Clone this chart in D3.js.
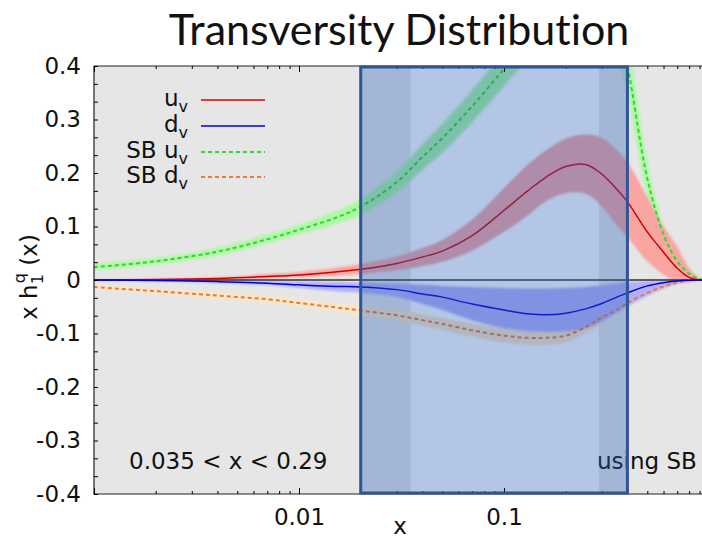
<!DOCTYPE html>
<html>
<head>
<meta charset="utf-8">
<script src="https://cdn.jsdelivr.net/npm/d3@7"></script>
<style>
  body { margin: 0; background: #fff; }
  text { font-family: "DejaVu Sans", sans-serif; fill: #111; }
</style>
</head>
<body>
<svg id="chart" width="702" height="538"></svg>
<script>
// x grid the curves are sampled on
var xGrid = [0.001, 0.002, 0.004, 0.007, 0.01, 0.015, 0.02, 0.03, 0.04, 0.05, 0.07, 0.1,
             0.13, 0.16, 0.2, 0.25, 0.3, 0.35, 0.4, 0.5, 0.6, 0.7, 0.8, 0.9, 1.0];

// u_v transversity (central, lower, upper)
var uvMid = [0.0005, 0.001, 0.003, 0.0065, 0.0095, 0.015, 0.02, 0.031, 0.043, 0.054, 0.083, 0.13,
             0.166, 0.192, 0.212, 0.216, 0.198, 0.172, 0.146, 0.09, 0.052, 0.022, 0.005, 0, 0];
var uvLo  = [0, 0, 0.001, 0.003, 0.005, 0.008, 0.011, 0.018, 0.026, 0.034, 0.055, 0.09,
             0.12, 0.147, 0.162, 0.161, 0.138, 0.105, 0.08, 0.035, 0.01, -0.004, -0.004, 0, 0];
var uvHi  = [0.001, 0.002, 0.005, 0.011, 0.015, 0.023, 0.03, 0.044, 0.06, 0.075, 0.113, 0.172,
             0.215, 0.242, 0.264, 0.272, 0.266, 0.245, 0.22, 0.155, 0.1, 0.062, 0.022, 0.003, 0];

// d_v transversity
var dvMid = [0, -0.001, -0.003, -0.006, -0.009, -0.012, -0.013, -0.018, -0.026, -0.032, -0.045, -0.056,
             -0.063, -0.065, -0.062, -0.054, -0.044, -0.033, -0.024, -0.011, -0.005, -0.002, -0.0005, 0, 0];
var dvLo  = [-0.001, -0.003, -0.006, -0.01, -0.015, -0.021, -0.024, -0.032, -0.045, -0.056, -0.075, -0.09,
             -0.096, -0.097, -0.096, -0.09, -0.078, -0.063, -0.05, -0.03, -0.016, -0.007, -0.002, 0, 0];
var dvHi  = [0, 0, -0.001, -0.002, -0.003, -0.004, -0.005, -0.007, -0.009, -0.011, -0.013, -0.015,
             -0.016, -0.016, -0.015, -0.013, -0.01, -0.007, -0.004, -0.002, -0.001, 0, 0, 0, 0];

// Soffer bound for u_v
var sbuMid = [0.024, 0.035, 0.053, 0.076, 0.094, 0.116, 0.137, 0.183, 0.23, 0.265, 0.325, 0.395,
              0.45, 0.5, 0.54, 0.55, 0.54, 0.49, 0.4, 0.19, 0.085, 0.035, 0.012, 0.002, 0];
var sbuLo  = [0.018, 0.029, 0.046, 0.068, 0.085, 0.104, 0.122, 0.163, 0.206, 0.238, 0.295, 0.362,
              0.415, 0.465, 0.505, 0.515, 0.5, 0.44, 0.35, 0.16, 0.068, 0.024, 0.006, 0, 0];
var sbuHi  = [0.03, 0.041, 0.06, 0.085, 0.103, 0.128, 0.152, 0.203, 0.254, 0.292, 0.355, 0.428,
              0.485, 0.535, 0.575, 0.585, 0.58, 0.54, 0.45, 0.22, 0.1, 0.045, 0.018, 0.004, 0];

// Soffer bound for d_v
var sbdMid = [-0.013, -0.021, -0.029, -0.036, -0.043, -0.051, -0.057, -0.066, -0.075, -0.082, -0.094, -0.104,
              -0.108, -0.108, -0.104, -0.088, -0.07, -0.057, -0.043, -0.024, -0.012, -0.005, -0.001, 0, 0];
var sbdLo  = [-0.016, -0.025, -0.034, -0.041, -0.049, -0.057, -0.065, -0.076, -0.086, -0.093, -0.106, -0.117,
              -0.121, -0.121, -0.117, -0.1, -0.081, -0.066, -0.05, -0.029, -0.016, -0.008, -0.003, 0, 0];
var sbdHi  = [-0.01, -0.017, -0.024, -0.031, -0.037, -0.045, -0.049, -0.056, -0.064, -0.071, -0.082, -0.091,
              -0.095, -0.095, -0.091, -0.076, -0.059, -0.048, -0.036, -0.019, -0.008, -0.002, 0, 0, 0];

var yTicks = [-0.4, -0.3, -0.2, -0.1, 0, 0.1, 0.2, 0.3, 0.4];
var xTicks = [0.01, 0.1];
var xMajor = [0.001, 0.01, 0.1, 1];

var dataWindow = [0.035, 0.29];   // x covered by the data (white in the plot)
var windowEdge = [0.02, 0.4];     // edge of the blue box laid over it

var svg = d3.select("#chart");

var x = d3.scaleLog().domain([0.001, 1]).range([94, 709]);
var y = d3.scaleLinear().domain([-0.4, 0.4]).range([494, 66]);

var defs = svg.append("defs");
defs.append("clipPath").attr("id", "plotclip")
  .append("rect").attr("x", 94).attr("y", 66).attr("width", 615).attr("height", 428);
defs.append("filter").attr("id", "soft").attr("x", "-5%").attr("y", "-5%").attr("width", "110%").attr("height", "110%")
  .append("feGaussianBlur").attr("stdDeviation", 0.8);
defs.append("filter").attr("id", "softer").attr("x", "-5%").attr("y", "-5%").attr("width", "110%").attr("height", "110%")
  .append("feGaussianBlur").attr("stdDeviation", 1.6);

// title
svg.append("text")
  .attr("x", 399).attr("y", 45)
  .attr("text-anchor", "middle")
  .style("font-family", "Lato, 'Open Sans', sans-serif")
  .style("font-size", "43px")
  .style("font-variant-ligatures", "none")
  .text("Transversity Distribution");

// plot background: gray, white where there is data
svg.append("rect")
  .attr("x", 94).attr("y", 66).attr("width", 615).attr("height", 428)
  .attr("fill", "#e6e6e6");
svg.append("rect")
  .attr("x", x(dataWindow[0])).attr("y", 66)
  .attr("width", x(dataWindow[1]) - x(dataWindow[0])).attr("height", 428)
  .attr("fill", "#ffffff");

var plot = svg.append("g").attr("clip-path", "url(#plotclip)");

function bandPath(lo, hi) {
  return d3.area()
    .x(function (d, i) { return x(xGrid[i]); })
    .y0(function (d, i) { return y(lo[i]); })
    .y1(function (d, i) { return y(hi[i]); })
    .curve(d3.curveCatmullRom.alpha(0.5))(xGrid);
}
function linePath(vals) {
  return d3.line()
    .x(function (d, i) { return x(xGrid[i]); })
    .y(function (d, i) { return y(vals[i]); })
    .curve(d3.curveCatmullRom.alpha(0.5))(xGrid);
}

// error bands
plot.append("path").attr("d", bandPath(sbuLo, sbuHi)).attr("fill", "#aaf8a0").attr("filter", "url(#softer)");
plot.append("path").attr("d", bandPath(sbdLo, sbdHi)).attr("fill", "#ffe6c0").attr("filter", "url(#soft)");
plot.append("path").attr("d", bandPath(uvLo, uvHi)).attr("fill", "#f9a6a2").attr("filter", "url(#soft)");
plot.append("path").attr("d", bandPath(dvLo, dvHi)).attr("fill", "#b2b0fa").attr("filter", "url(#soft)");

// zero line
plot.append("line")
  .attr("x1", 94).attr("x2", 709).attr("y1", y(0)).attr("y2", y(0))
  .attr("stroke", "#333").attr("stroke-width", 1.5);

// central curves
plot.append("path").attr("d", linePath(sbuMid)).attr("fill", "none")
  .attr("stroke", "#2fd62f").attr("stroke-width", 2).attr("stroke-dasharray", "4,3");
plot.append("path").attr("d", linePath(sbdMid)).attr("fill", "none")
  .attr("stroke", "#e8783c").attr("stroke-width", 2).attr("stroke-dasharray", "4,3");
plot.append("path").attr("d", linePath(uvMid)).attr("fill", "none")
  .attr("stroke", "#d40000").attr("stroke-width", 1.5);
plot.append("path").attr("d", linePath(dvMid)).attr("fill", "none")
  .attr("stroke", "#0000d0").attr("stroke-width", 1.5);

// annotations
svg.append("text").attr("x", 129).attr("y", 469).style("font-size", "23px")
  .text("0.035 < x < 0.29");
svg.append("text").attr("x", 597).attr("y", 469).style("font-size", "23px")
  .text("using SB");

// translucent blue box laid over the x window
svg.append("rect")
  .attr("x", x(windowEdge[0])).attr("y", 66)
  .attr("width", x(windowEdge[1]) - x(windowEdge[0])).attr("height", 428)
  .attr("fill", "#265cb8").attr("fill-opacity", 0.35);

// axes frame
svg.append("path")
  .attr("d", "M709,66H94V494H709")
  .attr("fill", "none").attr("stroke", "#222").attr("stroke-width", 1.2);

var yMinor = d3.range(-12, 13).map(function (k) { return k * 0.1 / 3; });
svg.append("g").attr("transform", "translate(94,0)")
  .call(d3.axisRight(y).tickValues(yMinor).tickSize(4).tickFormat(""))
  .call(function (g) { g.select(".domain").remove(); });

svg.append("g").attr("transform", "translate(94,0)")
  .call(d3.axisLeft(y).tickValues(yTicks).tickSize(0).tickPadding(13)
    .tickFormat(function (d) { return d === 0 ? "0" : d3.format(".1f")(d).replace("−", "-"); }))
  .call(function (g) {
    g.select(".domain").remove();
    g.selectAll("text").style("font-size", "23px").style("font-family", "DejaVu Sans").attr("fill", "#111");
  });

var xMinor = [];
[0.001, 0.01, 0.1].forEach(function (dec) {
  for (var k = 2; k <= 9; k++) xMinor.push(dec * k);
});
svg.append("g").attr("transform", "translate(0,494)")
  .call(d3.axisTop(x).tickValues(xMinor).tickSize(3).tickFormat(""))
  .call(function (g) { g.select(".domain").remove(); });
svg.append("g").attr("transform", "translate(0,494)")
  .call(d3.axisTop(x).tickValues(xMajor).tickSize(6).tickFormat(""))
  .call(function (g) { g.select(".domain").remove(); });
svg.append("g").attr("transform", "translate(0,66)")
  .call(d3.axisBottom(x).tickValues(xMinor).tickSize(3).tickFormat(""))
  .call(function (g) { g.select(".domain").remove(); });
svg.append("g").attr("transform", "translate(0,66)")
  .call(d3.axisBottom(x).tickValues(xMajor).tickSize(6).tickFormat(""))
  .call(function (g) { g.select(".domain").remove(); });

svg.append("g").attr("transform", "translate(0,494)")
  .call(d3.axisBottom(x).tickValues(xTicks).tickSize(0).tickPadding(15)
    .tickFormat(function (d) { return String(d); }))
  .call(function (g) {
    g.select(".domain").remove();
    g.selectAll("text").style("font-size", "23px").style("font-family", "DejaVu Sans").attr("fill", "#111");
  });

// axis titles
svg.append("text").attr("x", 400).attr("y", 534).attr("text-anchor", "middle")
  .style("font-size", "23px").text("x");

var yt = svg.append("text")
  .attr("transform", "translate(37,277) rotate(-90)")
  .attr("text-anchor", "middle")
  .style("font-size", "23px");
yt.append("tspan").text("x h");
yt.append("tspan").attr("dy", 6).style("font-size", "16px").text("1");
yt.append("tspan").attr("dx", -9).attr("dy", -18).style("font-size", "16px").text("q");
yt.append("tspan").attr("dy", 12).text(" (x)");

// legend
var legendNames = ["u", "d", "SB u", "SB d"];
var legendColors = ["#d40000", "#0000d0", "#2fd62f", "#e8783c"];
var legendDash = [null, null, "4,3", "4,3"];
var legendY = [100, 126, 152, 177];

var leg = svg.append("g");
legendNames.forEach(function (name, i) {
  var t = leg.append("text").attr("x", 188).attr("y", legendY[i] + 6)
    .attr("text-anchor", "end").style("font-size", "23px");
  t.append("tspan").text(name);
  t.append("tspan").attr("dy", 6).style("font-size", "16px").text("v");
  leg.append("line")
    .attr("x1", 201).attr("x2", 265).attr("y1", legendY[i]).attr("y2", legendY[i])
    .attr("stroke", legendColors[i]).attr("stroke-width", legendDash[i] ? 2 : 1.5)
    .attr("stroke-dasharray", legendDash[i]);
});

// border of the blue box
svg.append("rect")
  .attr("x", x(windowEdge[0])).attr("y", 67)
  .attr("width", x(windowEdge[1]) - x(windowEdge[0])).attr("height", 426)
  .attr("fill", "none").attr("stroke", "#2f5597").attr("stroke-width", 3);
</script>
</body>
</html>
